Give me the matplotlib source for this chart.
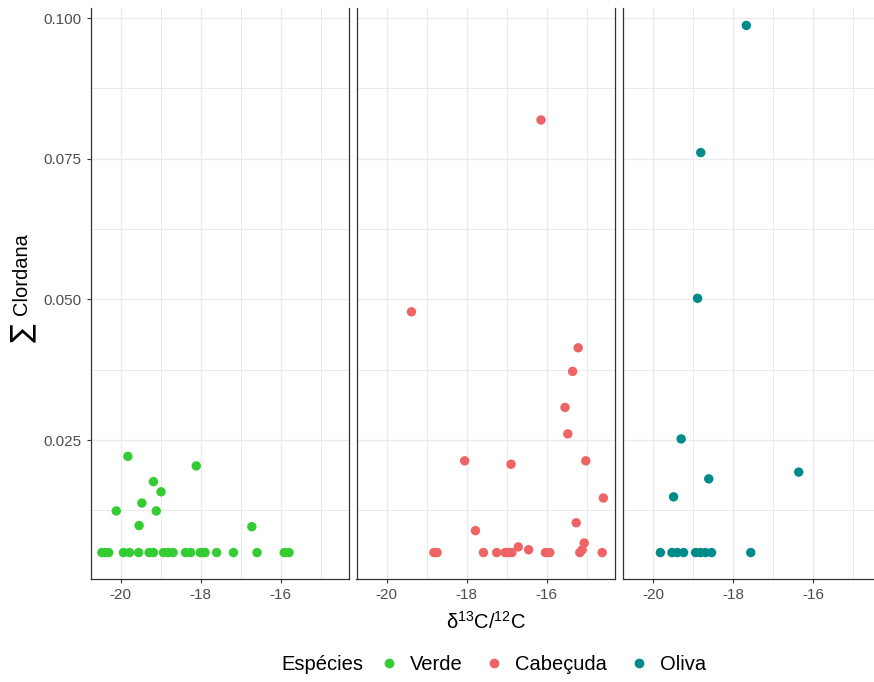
import matplotlib
matplotlib.use("Agg")
import matplotlib.pyplot as plt
from matplotlib.lines import Line2D
from matplotlib.ticker import MultipleLocator

plt.rcParams['font.family'] = ['Liberation Sans', 'DejaVu Sans']
plt.rcParams['mathtext.fontset'] = 'custom'
plt.rcParams['mathtext.rm'] = 'Liberation Sans'
plt.rcParams['mathtext.it'] = 'Liberation Sans:italic'

especies = ["Verde", "Cabeçuda", "Oliva"]
cores = ["#33CC33", "#EE6464", "#008B8B"]

# Verde
verde_x = [-19.82, -18.11, -19.18, -18.99, -19.47, -20.11, -19.11, -19.54, -16.72,
           -20.47, -20.38, -20.30, -19.93, -19.78, -19.55, -19.29, -19.18, -18.93,
           -18.81, -18.69, -18.38, -18.25, -18.01, -17.95, -17.89, -17.60, -17.18,
           -16.59, -15.91, -15.79]
verde_y = [0.0221, 0.0204, 0.0176, 0.0158, 0.0138, 0.0124, 0.0124, 0.0098, 0.0096,
           0.005, 0.005, 0.005, 0.005, 0.005, 0.005, 0.005, 0.005, 0.005,
           0.005, 0.005, 0.005, 0.005, 0.005, 0.005, 0.005, 0.005, 0.005,
           0.005, 0.005, 0.005]

# Cabeçuda
cabecuda_x = [-16.14, -19.38, -15.21, -15.35, -15.54, -15.47, -18.05, -16.89, -15.02,
              -14.58, -15.26, -17.78, -15.06, -16.71, -16.45, -15.11,
              -18.82, -18.74, -17.58, -17.25, -17.04, -16.95, -16.87, -16.03, -15.92,
              -15.17, -14.61]
cabecuda_y = [0.0819, 0.0478, 0.0414, 0.0372, 0.0308, 0.0261, 0.0213, 0.0207, 0.0213,
              0.0147, 0.0103, 0.0089, 0.0067, 0.0060, 0.0055, 0.0055,
              0.005, 0.005, 0.005, 0.005, 0.005, 0.005, 0.005, 0.005, 0.005,
              0.005, 0.005]

# Oliva
oliva_x = [-17.67, -18.81, -18.89, -19.30, -16.36, -18.61, -19.49,
           -19.82, -19.53, -19.40, -19.24, -18.94, -18.82, -18.69, -18.54, -17.56]
oliva_y = [0.0987, 0.0761, 0.0502, 0.0252, 0.0193, 0.0181, 0.0149,
           0.005, 0.005, 0.005, 0.005, 0.005, 0.005, 0.005, 0.005, 0.005]

dados = [(verde_x, verde_y), (cabecuda_x, cabecuda_y), (oliva_x, oliva_y)]

W, H = 874, 682
fig = plt.figure(figsize=(W / 100, H / 100), dpi=100)

esquerdas = [90.5, 356.5, 623]
larg = 258.5
topo = 8
base = 579

for i in range(3):
    ax = fig.add_axes([esquerdas[i] / W, (H - base) / H, larg / W, (base - topo) / H])
    x, y = dados[i]
    ax.scatter(x, y, s=46, color=cores[i], edgecolors='none', zorder=3)
    ax.set_xlim(-20.755, -14.29)
    ax.set_ylim(0.0003, 0.1018)
    ax.xaxis.set_minor_locator(MultipleLocator(1))
    ax.yaxis.set_major_locator(MultipleLocator(0.025))
    ax.yaxis.set_minor_locator(MultipleLocator(0.0125))
    ax.set_xticks([-20, -18, -16])
    ax.set_xticklabels(["-20", "-18", "-16"])
    ax.grid(which='major', color='#EBEBEB', lw=1.0, zorder=0)
    ax.grid(which='minor', color='#EBEBEB', lw=0.7, zorder=0)
    ax.tick_params(which='minor', length=0)
    ax.tick_params(which='major', length=3, width=0.8, color='#333333',
                   labelcolor='#4D4D4D', labelsize=11)
    ax.spines['top'].set_visible(False)
    for lado in ['left', 'right', 'bottom']:
        ax.spines[lado].set_color('#333333')
        ax.spines[lado].set_linewidth(0.9)
    if i == 2:
        ax.spines['right'].set_visible(False)
    if i == 0:
        ax.yaxis.set_major_formatter(plt.FuncFormatter(lambda v, p: f"{v:.3f}"))
    else:
        ax.tick_params(axis='y', left=False, labelleft=False)

fig.text(486 / W, 1 - 622 / H, r"δ$^{13}$C/$^{12}$C", ha='center', va='center',
         fontsize=14.5)
# titulo do eixo y: sigma grande + texto
fig.text(22 / W, 1 - 333 / H, "∑", rotation=90, ha='center', va='center',
         fontsize=20, family=['DejaVu Sans'])
fig.text(22 / W, 1 - 274 / H, "Clordana", rotation=90, ha='center', va='center',
         fontsize=14.5)

fig.text(322 / W, 1 - 665 / H, "Espécies", ha='center', va='center', fontsize=14.5)
handles = [Line2D([], [], marker='o', ls='', color=c, markersize=6) for c in cores]
fig.legend(handles, especies, loc='center', bbox_to_anchor=(540 / W, 1 - 665 / H),
           ncol=3, frameon=False, fontsize=14.5, handletextpad=0.3,
           columnspacing=0.8, handlelength=1.5)

plt.savefig("out.png", dpi=100)
